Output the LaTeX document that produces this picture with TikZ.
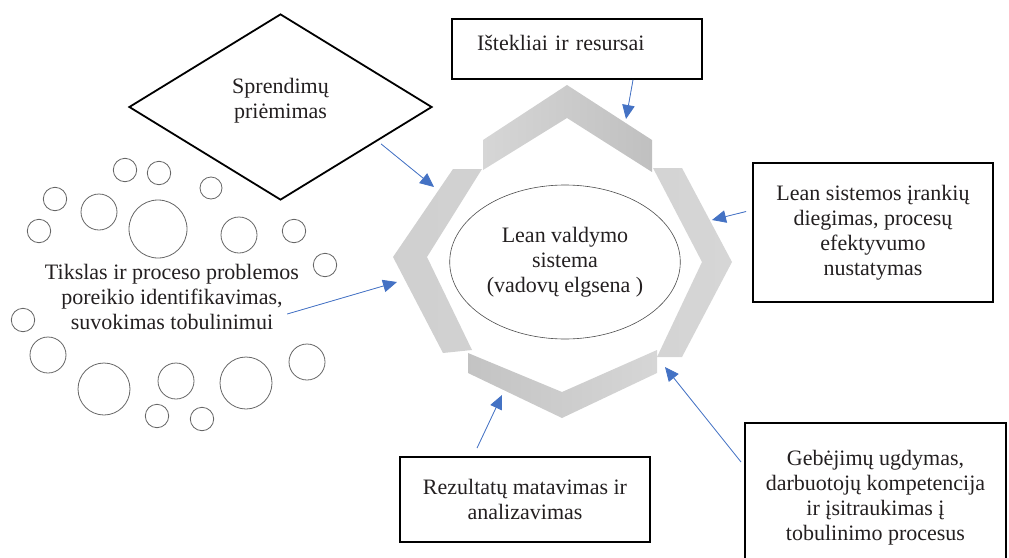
\documentclass[tikz,border=0pt]{standalone}
\usepackage{fontspec}
\setmainfont{Liberation Serif}
\usepackage{tikz}
\usetikzlibrary{shapes.geometric, arrows.meta, positioning, calc}
\definecolor{arrowblue}{RGB}{68,114,196}
\definecolor{ringlight}{RGB}{214,214,214}
\definecolor{ringdark}{RGB}{192,192,192}
\definecolor{textcol}{RGB}{35,31,32}
\newcommand{\boxfont}{\fontsize{22}{25}\selectfont}

\begin{document}
\begin{tikzpicture}[x=1pt, y=-1pt,
    box/.style={rectangle, draw=black, line width=1.8pt, align=center, inner sep=0pt, font=\boxfont, text=textcol},
    bubble/.style={draw=black!60, line width=0.8pt},
    arrow/.style={-{Triangle[length=14pt, width=12.5pt]}, draw=arrowblue, fill=arrowblue, line width=0.8pt}
]
\useasboundingbox (0,0) rectangle (1009,557);

\path[left color=ringlight, right color=ringdark] (483,140) -- (567,85) -- (652,140) -- (652,172) -- (567,118) -- (483,170) -- cycle;
\path[left color=ringlight!90!ringdark, right color=ringlight] (653,168) -- (682,168) -- (732,262) -- (682,357) -- (657,357) -- (702,262) -- cycle;
\path[left color=ringlight!70!ringdark, right color=ringlight!80!ringdark] (453,169) -- (482,169) -- (427,257) -- (472,350) -- (443,353) -- (393,257) -- cycle;
\path[left color=ringdark!85!ringlight, right color=ringlight] (468,353) -- (562,392) -- (657,350) -- (657,373) -- (562,418) -- (468,373) -- cycle;

\node[ellipse, draw=black!70, line width=0.6pt, minimum width=224pt, minimum height=154pt, align=center, font=\boxfont, text=textcol] (lean) at (565,262) {Lean valdymo\\sistema\\(vadovų elgsena )};

\node[box, minimum width=250pt, minimum height=60pt, text width=200pt, align=left, text depth=13pt] (res) at (577,49) {Ištekliai ir resursai};
\node[diamond, draw=black, line width=1.8pt, minimum width=303pt, minimum height=186pt, inner sep=0pt, align=center, font=\boxfont, text=textcol, text depth=17pt] (dec) at (280.5,107) {Sprendimų\\priėmimas};
\node[box, minimum width=240pt, minimum height=139pt] (tools) at (873,232.5) {Lean sistemos įrankių\\diegimas, procesų\\efektyvumo\\nustatymas};
\node[box, minimum width=250pt, minimum height=85pt] (meas) at (525,499.5) {Rezultatų matavimas ir\\analizavimas};
\node[box, minimum width=261pt, minimum height=150pt] (skill) at (875.5,498) {Gebėjimų ugdymas,\\darbuotojų kompetencija\\ir įsitraukimas į\\tobulinimo procesus};
\node[align=center, inner sep=0pt, font=\boxfont, text=textcol] (goal) at (172,297) {Tikslas ir proceso problemos\\poreikio identifikavimas,\\suvokimas tobulinimui};

\draw[bubble] (125,170) circle (11.7pt) (159,173) circle (11.7pt) (211,188) circle (11pt) (55,199) circle (11.7pt) (39,231) circle (11.7pt) (294,231) circle (11.7pt) (325,265) circle (11.7pt);
\draw[bubble] (99,212) circle (18pt) (158,229) circle (29pt) (239,235) circle (18pt);
\draw[bubble] (23,320) circle (11.7pt) (48,355) circle (18pt) (104,389) circle (26pt) (176,381) circle (18pt) (246,383) circle (26pt) (307,362) circle (18pt) (157,416) circle (11.7pt) (202,419) circle (11.7pt);

\coordinate (tipRes) at (626,119);
\coordinate (tipDec) at (434,187);
\coordinate (tipGoal) at (397,282);
\coordinate (tipTools) at (712,220);
\coordinate (tipMeas) at (502,395);
\coordinate (tipSkill) at (665,367);

\draw[arrow] ($(res.south)+(56,0)$) -- (tipRes);
\draw[arrow] ($(dec.south)!0.66!(dec.east)+(0,5)$) -- (tipDec);
\draw[arrow] ($(goal.east)+(-12,17)$) -- (tipGoal);
\draw[arrow] ($(tools.west)+(-6,-21)$) -- (tipTools);
\draw[arrow] ($(meas.north)+(-48,-8)$) -- (tipMeas);
\draw[arrow] ($(skill.north west)+(-3,40)$) -- (tipSkill);
\end{tikzpicture}
\end{document}
